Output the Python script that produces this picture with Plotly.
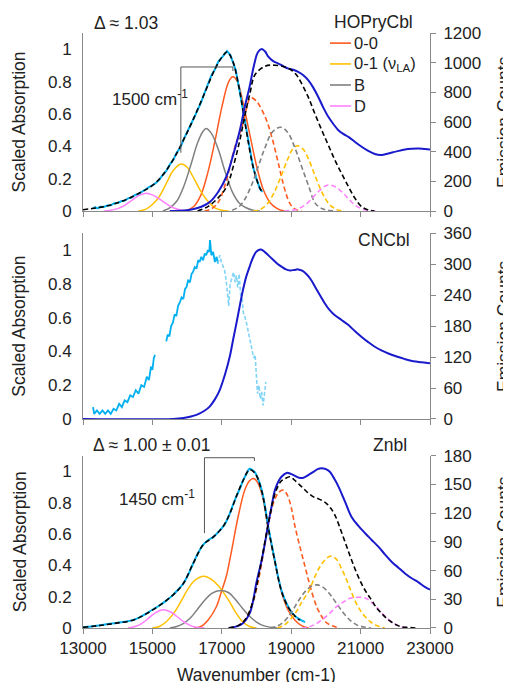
import plotly.graph_objects as go

# ---------------- Panel 1: HOPryCbl ----------------
p1_abs_wn = [13290, 13350, 13420, 13500, 13600, 13700, 13800, 13900, 14000, 14100, 14200, 14300, 14400, 14500,
             14600, 14700, 14800, 14900, 15000, 15100, 15200, 15300, 15400, 15500, 15600, 15700, 15800, 15900,
             16000, 16100, 16200, 16300, 16400, 16500, 16600, 16700, 16800, 16900, 17000, 17100, 17150, 17200,
             17250, 17300, 17400, 17500, 17600, 17700, 17800, 17900, 18000, 18100, 18170]
p1_abs = [0.015, 0.024, 0.016, 0.026, 0.025, 0.034, 0.035, 0.048, 0.050, 0.060, 0.064, 0.078, 0.083, 0.099,
          0.106, 0.122, 0.133, 0.148, 0.158, 0.174, 0.194, 0.224, 0.248, 0.287, 0.316, 0.360, 0.390, 0.443,
          0.485, 0.535, 0.576, 0.624, 0.670, 0.728, 0.782, 0.838, 0.874, 0.923, 0.948, 0.977, 0.988, 0.976,
          0.962, 0.933, 0.872, 0.758, 0.637, 0.503, 0.382, 0.273, 0.197, 0.138, 0.118]
p1_fit_wn = [13000, 13400, 13800, 14200, 14600, 15000, 15300, 15600, 15900, 16200, 16500, 16800, 17000, 17150,
             17300, 17500, 17700, 17900, 18100, 18170]
p1_fit = [0.008, 0.02, 0.037, 0.067, 0.108, 0.158, 0.222, 0.318, 0.441, 0.577, 0.726, 0.876, 0.950, 0.983,
          0.935, 0.760, 0.505, 0.275, 0.140, 0.118]
p1_00_wn = [15800, 16000, 16200, 16400, 16600, 16800, 17000, 17200, 17320, 17450, 17600, 17800, 18000, 18200, 18400, 18600, 18800]
p1_00 = [0.0, 0.005, 0.03, 0.10, 0.24, 0.43, 0.64, 0.80, 0.83, 0.80, 0.68, 0.48, 0.28, 0.13, 0.05, 0.015, 0.0]
p1_01_wn = [14600, 14800, 15000, 15200, 15400, 15600, 15830, 16000, 16200, 16400, 16600, 16800, 17000, 17200]
p1_01 = [0.0, 0.01, 0.04, 0.09, 0.17, 0.25, 0.29, 0.27, 0.20, 0.12, 0.06, 0.02, 0.005, 0.0]
p1_B_wn = [15300, 15500, 15700, 15900, 16100, 16300, 16450, 16550, 16700, 16900, 17100, 17300, 17500, 17700, 17900, 18100]
p1_B = [0.0, 0.02, 0.06, 0.15, 0.28, 0.42, 0.49, 0.51, 0.48, 0.38, 0.24, 0.12, 0.05, 0.02, 0.005, 0.0]
p1_D_wn = [13600, 13800, 14000, 14200, 14400, 14600, 14820, 15000, 15200, 15400, 15600, 15800, 16000]
p1_D = [0.0, 0.005, 0.015, 0.035, 0.065, 0.095, 0.11, 0.10, 0.075, 0.045, 0.02, 0.007, 0.0]

p1_em_wn = [15500, 16000, 16300, 16650, 16900, 17130, 17330, 17520, 17660, 17800, 17930, 18040, 18150, 18250,
            18340, 18480, 18630, 18780, 18920, 19060, 19200, 19350, 19490, 19640, 19780, 19920, 20070, 20220,
            20360, 20500, 20650, 20840, 21030, 21220, 21410, 21600, 21800, 22040, 22280, 22470, 22660, 22850, 23000]
p1_em = [0, 5, 20, 60, 130, 231, 380, 545, 700, 837, 985, 1070, 1092, 1075, 1040, 1010, 994, 975, 960, 952,
         938, 915, 882, 830, 769, 700, 635, 585, 545, 520, 500, 465, 433, 405, 384, 378, 388, 402, 415, 420,
         422, 418, 415]
p1_emfit_wn = [16300, 16600, 16900, 17140, 17330, 17520, 17660, 17810, 17960, 18250, 18530, 18820, 19010, 19160,
               19300, 19490, 19680, 19880, 20070, 20260, 20450, 20650, 20840, 21030, 21220, 21400]
p1_emfit = [0, 30, 90, 164, 300, 478, 640, 792, 920, 976, 983, 971, 949, 915, 859, 769, 657, 545, 444, 343,
            254, 164, 85, 29, 7, 0]
p1_e00_wn = [16500, 16700, 16900, 17100, 17380, 17610, 17700, 17800, 17850, 18000, 18250, 18440, 18630, 18820, 18960, 19100, 19300]
p1_e00 = [0, 15, 60, 180, 433, 590, 680, 758, 765, 740, 635, 500, 321, 141, 52, 15, 0]
p1_e01_wn = [17900, 18100, 18300, 18500, 18700, 18900, 19050, 19190, 19350, 19500, 19700, 19900, 20100, 20300, 20500]
p1_e01 = [0, 10, 45, 120, 230, 350, 420, 440, 415, 350, 230, 120, 45, 12, 0]
p1_eB_wn = [17300, 17500, 17650, 17850, 18050, 18250, 18450, 18690, 18900, 19100, 19300, 19500, 19700, 19900, 20100, 20300]
p1_eB = [5, 30, 74, 170, 300, 430, 530, 565, 530, 430, 300, 170, 50, 15, 3, 0]
p1_eD_wn = [18800, 19000, 19200, 19400, 19600, 19800, 20000, 20120, 20300, 20500, 20700, 20900, 21100, 21300, 21500]
p1_eD = [0, 5, 15, 40, 85, 135, 170, 175, 160, 120, 70, 30, 10, 2, 0]

# ---------------- Panel 2: CNCbl ----------------
p2_abs_a_wn = [13290, 13320, 13400, 13480, 13560, 13640, 13720, 13800, 13880, 13960, 14040, 14120, 14200, 14280,
               14360, 14440, 14520, 14600, 14680, 14760, 14840, 14900, 14960, 15000, 15040, 15075]
p2_abs_a = [0.07, 0.03, 0.05, 0.03, 0.05, 0.03, 0.05, 0.03, 0.06, 0.05, 0.09, 0.07, 0.11, 0.10, 0.14, 0.13,
            0.17, 0.15, 0.20, 0.19, 0.25, 0.23, 0.31, 0.29, 0.36, 0.38]
p2_abs_b_wn = [15400, 15440, 15490, 15540, 15590, 15640, 15690, 15740, 15790, 15840, 15890, 15940, 15980, 16030,
               16080, 16130, 16170, 16220, 16270, 16320, 16360, 16410, 16460, 16510, 16550, 16600, 16640, 16660,
               16700, 16750, 16800, 16850, 16890]
p2_abs_b = [0.46, 0.50, 0.49, 0.55, 0.57, 0.62, 0.61, 0.67, 0.69, 0.72, 0.71, 0.77, 0.78, 0.82, 0.81, 0.86,
            0.87, 0.90, 0.89, 0.94, 0.93, 0.96, 0.94, 0.98, 0.97, 1.0, 0.99, 1.06, 0.97, 0.99, 0.93, 0.96, 0.92]
p2_abs_c_wn = [16890, 16940, 16990, 17040, 17080, 17120, 17160, 17200, 17240, 17290, 17340, 17380, 17420, 17460,
               17500, 17540, 17580, 17620, 17660, 17720, 17780, 17840, 17880, 17920, 17960, 17990, 18030, 18070,
               18110, 18150, 18190, 18230, 18270]
p2_abs_c = [0.92, 0.97, 0.93, 0.90, 0.88, 0.83, 0.76, 0.67, 0.80, 0.83, 0.87, 0.81, 0.85, 0.78, 0.86, 0.74,
            0.72, 0.63, 0.61, 0.56, 0.50, 0.46, 0.40, 0.36, 0.38, 0.28, 0.15, 0.20, 0.12, 0.16, 0.08, 0.15, 0.22]
p2_em_wn = [13000, 15600, 15900, 16270, 16500, 16650, 16800, 16940, 17100, 17230, 17330, 17420, 17520, 17610,
            17700, 17800, 17900, 17990, 18080, 18150, 18250, 18440, 18600, 18730, 18850, 18970, 19090, 19200,
            19330, 19450, 19570, 19690, 19830, 19970, 20110, 20260, 20450, 20650, 20840, 21030, 21220, 21410,
            21600, 21800, 22040, 22280, 22520, 22760, 23000]
p2_em = [0, 0, 2, 8, 16, 24, 38, 56, 88, 121, 155, 185, 220, 250, 275, 295, 313, 324, 328, 328, 323, 311, 301,
         295, 290, 288, 289, 290, 287, 280, 270, 256, 240, 224, 211, 201, 192, 182, 170, 159, 149, 140, 133,
         127, 121, 116, 112, 110, 108]

# ---------------- Panel 3: Znbl ----------------
p3_abs_wn = [13000, 13240, 13480, 13720, 13960, 14200, 14440, 14630, 14820, 15010, 15210, 15400, 15590, 15740,
             15880, 16030, 16170, 16310, 16460, 16600, 16750, 16890, 17030, 17130, 17230, 17330, 17420, 17520,
             17610, 17700, 17800, 17870, 17950, 18050, 18150, 18250, 18340, 18440, 18530, 18620, 18720, 18820,
             18920, 19010, 19110, 19250, 19400]
p3_abs = [0.005, 0.01, 0.017, 0.025, 0.032, 0.04, 0.05, 0.068, 0.092, 0.118, 0.145, 0.175, 0.21, 0.245, 0.28,
          0.34, 0.41, 0.475, 0.53, 0.56, 0.58, 0.61, 0.645, 0.68, 0.73, 0.79, 0.84, 0.89, 0.94, 0.98, 1.017,
          1.01, 0.995, 0.95, 0.88, 0.77, 0.645, 0.53, 0.43, 0.33, 0.24, 0.18, 0.134, 0.10, 0.077, 0.055, 0.038]
p3_fit_wn = [13000, 13480, 13960, 14440, 14820, 15210, 15590, 15880, 16170, 16460, 16750, 17030, 17230, 17420,
             17610, 17800, 17950, 18150, 18340, 18530, 18720, 18920, 19110, 19250]
p3_fit = [0.004, 0.016, 0.031, 0.05, 0.09, 0.145, 0.21, 0.28, 0.41, 0.53, 0.58, 0.645, 0.73, 0.84, 0.94,
          1.01, 0.99, 0.875, 0.64, 0.425, 0.235, 0.13, 0.075, 0.05]
p3_00_wn = [16200, 16400, 16600, 16840, 17000, 17130, 17270, 17470, 17660, 17800, 17900, 18000, 18150, 18340,
            18530, 18720, 18920, 19110, 19300, 19500]
p3_00 = [0.0, 0.01, 0.05, 0.134, 0.24, 0.33, 0.48, 0.71, 0.88, 0.94, 0.955, 0.94, 0.86, 0.63, 0.42, 0.23,
         0.11, 0.05, 0.015, 0.0]
p3_01_wn = [15000, 15200, 15400, 15600, 15800, 16000, 16200, 16480, 16700, 16900, 17100, 17230, 17400, 17600, 17800, 18000]
p3_01 = [0.0, 0.01, 0.04, 0.09, 0.16, 0.24, 0.30, 0.33, 0.31, 0.27, 0.21, 0.165, 0.10, 0.04, 0.01, 0.0]
p3_B_wn = [15500, 15700, 15900, 16100, 16300, 16500, 16700, 16970, 17200, 17400, 17600, 17800, 18000, 18200, 18400, 18600]
p3_B = [0.0, 0.01, 0.03, 0.065, 0.12, 0.175, 0.22, 0.24, 0.225, 0.18, 0.125, 0.075, 0.038, 0.015, 0.005, 0.0]
p3_D_wn = [14300, 14500, 14700, 14900, 15100, 15300, 15500, 15700, 15900, 16100, 16300, 16500]
p3_D = [0.0, 0.01, 0.03, 0.065, 0.10, 0.117, 0.105, 0.075, 0.04, 0.015, 0.004, 0.0]

p3_em_wn = [17200, 17450, 17610, 17800, 17900, 17990, 18080, 18150, 18250, 18340, 18440, 18530, 18630, 18720,
            18870, 18990, 19110, 19230, 19350, 19500, 19640, 19760, 19880, 20000, 20120, 20240, 20360, 20550,
            20740, 20930, 21130, 21320, 21510, 21700, 21900, 22090, 22280, 22470, 22660, 22850, 23000]
p3_em = [0, 2, 5, 15, 28, 46, 60, 71, 90, 109, 128, 144, 153, 158, 162, 161, 159, 157, 157, 160, 163, 166,
         167, 166, 163, 156, 148, 132, 116, 107, 99, 92, 85, 77, 69, 63, 57, 52, 48, 43, 40]
p3_emfit_wn = [17200, 17500, 17700, 17900, 18100, 18340, 18530, 18700, 18820, 18960, 19080, 19200, 19350, 19490,
               19640, 19780, 19900, 20020, 20140, 20260, 20380, 20500, 20620, 20740, 20880, 21030, 21170, 21320,
               21460, 21610, 21750, 21900, 22050, 22200, 22400, 22600]
p3_emfit = [0, 3, 10, 28, 62, 109, 140, 153, 156, 158, 155, 151, 146, 141, 137, 135, 133, 130, 125, 118, 107,
            95, 83, 71, 58, 46, 37, 29, 21, 15, 10, 6, 3, 1, 0.5, 0]
p3_e00_wn = [17200, 17500, 17700, 17900, 18100, 18300, 18500, 18650, 18780, 18900, 19000, 19110, 19250, 19400,
             19520, 19640, 19760, 19880, 20000, 20200, 20400]
p3_e00 = [0, 3, 10, 27, 58, 100, 132, 142, 144, 138, 126, 106, 85, 64, 47, 32, 20, 12, 6, 2, 0]
p3_e01_wn = [18600, 18800, 19000, 19200, 19300, 19500, 19700, 19900, 20120, 20300, 20450, 20600, 20740, 20900,
             21100, 21300, 21500, 21700]
p3_e01 = [0, 3, 10, 20, 27, 38, 55, 68, 75, 72, 62, 50, 37, 24, 13, 6, 2, 0]
p3_eB_wn = [18400, 18600, 18800, 19000, 19200, 19400, 19600, 19750, 19900, 20100, 20300, 20500, 20700, 20900, 21100, 21300]
p3_eB = [0, 2, 7, 16, 28, 38, 44, 45, 43, 36, 26, 16, 8, 3, 1, 0]
p3_eD_wn = [19300, 19500, 19700, 19900, 20100, 20300, 20500, 20700, 21030, 21200, 21400, 21600, 21800, 22000, 22200, 22400]
p3_eD = [0, 1, 4, 9, 15, 22, 27, 31, 32, 30, 24, 16, 9, 4, 1, 0]

# ---------------- axes / labels ----------------
x_ticks = [13000, 15000, 17000, 19000, 21000, 23000]
x_ticktext = ["13000", "15000", "17000", "19000", "21000", "23000"]
abs_ticks = [0, 0.2, 0.4, 0.6, 0.8, 1]
abs_ticktext = ["0", "0.2", "0.4", "0.6", "0.8", "1"]
p1_em_ticks = [0, 200, 400, 600, 800, 1000, 1200]
p2_em_ticks = [0, 60, 120, 180, 240, 300, 360]
p3_em_ticks = [0, 30, 60, 90, 120, 150, 180]
legend_names = ["0-0", "0-1 (\u03bd<sub>LA</sub>)", "B", "D"]
bracket1_wn = [15820, 17320]
bracket1_y = [0.36, 0.89, 0.865]
bracket3_wn = [16500, 17940]
bracket3_y = [0.606, 1.087, 1.066]

C_ABS = "#00B0F0"
C_ABS_L = "#80D4F6"
C_EM = "#1A1ACD"
C_00 = "#FF5A1F"
C_01 = "#FFC000"
C_B = "#808080"
C_D = "#FF80FF"
FONT = "Liberation Sans, Arial, sans-serif"
TXT = "#222222"
AXC = "#898989"
DASH = "5px,3px"

fig = go.Figure()


def add(xv, yv, color, xa, ya, width=1.6, dash=None, shape="spline"):
    fig.add_trace(go.Scatter(x=xv, y=yv, mode="lines", xaxis=xa, yaxis=ya, showlegend=False,
                             hoverinfo="skip",
                             line=dict(color=color, width=width, dash=dash, shape=shape)))


comp_colors = [C_00, C_01, C_B, C_D]

# panel 1 (top) : x3 / y5 (abs), y6 (emission)
for (xv, yv), c in zip([(p1_00_wn, p1_00), (p1_01_wn, p1_01), (p1_B_wn, p1_B), (p1_D_wn, p1_D)], comp_colors):
    add(xv, yv, c, "x3", "y5", 1.5)
add(p1_abs_wn, p1_abs, C_ABS, "x3", "y5", 2.0, shape="linear")
add(p1_fit_wn, p1_fit, "#000000", "x3", "y5", 1.6, DASH)
for (xv, yv), c in zip([(p1_e00_wn, p1_e00), (p1_e01_wn, p1_e01), (p1_eB_wn, p1_eB), (p1_eD_wn, p1_eD)], comp_colors):
    add(xv, yv, c, "x3", "y6", 1.6, DASH)
add(p1_em_wn, p1_em, C_EM, "x3", "y6", 2.0)
add(p1_emfit_wn, p1_emfit, "#000000", "x3", "y6", 1.6, DASH)

# panel 2 (middle) : x2 / y3, y4
add(p2_abs_a_wn, p2_abs_a, C_ABS, "x2", "y3", 1.8, shape="linear")
add(p2_abs_b_wn, p2_abs_b, C_ABS, "x2", "y3", 1.8, shape="linear")
add(p2_abs_c_wn, p2_abs_c, C_ABS_L, "x2", "y3", 1.6, "4px,2px", shape="linear")
add(p2_em_wn, p2_em, C_EM, "x2", "y4", 2.0)

# panel 3 (bottom) : x / y, y2
for (xv, yv), c in zip([(p3_00_wn, p3_00), (p3_01_wn, p3_01), (p3_B_wn, p3_B), (p3_D_wn, p3_D)], comp_colors):
    add(xv, yv, c, "x", "y", 1.5)
add(p3_abs_wn, p3_abs, C_ABS, "x", "y", 2.0)
add(p3_fit_wn, p3_fit, "#000000", "x", "y", 1.6, DASH)
for (xv, yv), c in zip([(p3_e00_wn, p3_e00), (p3_e01_wn, p3_e01), (p3_eB_wn, p3_eB), (p3_eD_wn, p3_eD)], comp_colors):
    add(xv, yv, c, "x", "y2", 1.6, DASH)
add(p3_em_wn, p3_em, C_EM, "x", "y2", 2.0)
add(p3_emfit_wn, p3_emfit, "#000000", "x", "y2", 1.6, DASH)

tickfont = dict(family=FONT, size=17, color=TXT)
xcommon = dict(range=[13000, 23000], tickvals=x_ticks, ticktext=x_ticktext, ticks="outside", ticklen=5,
               tickcolor=AXC, showline=True, linecolor=AXC, linewidth=1, showgrid=False, zeroline=False,
               tickfont=tickfont)
yleft = dict(range=[0, 1.1], tickvals=abs_ticks, ticktext=abs_ticktext, ticks="", showline=True,
             linecolor=AXC, linewidth=1, showgrid=False, zeroline=False, tickfont=tickfont,
             ticklabelstandoff=7)
yright = dict(side="right", ticks="outside", ticklen=5, tickcolor=AXC, showline=True, linecolor=AXC,
              linewidth=1, showgrid=False, zeroline=False, tickfont=tickfont, ticklabelstandoff=4)

dom3 = [0.0, 0.2896]
dom2 = [0.3513, 0.6634]
dom1 = [0.7008, 1.0]

# the page body adds an 8px offset, so the figure is sized 8px smaller than the window
fig.update_layout(
    width=503, height=674,
    margin=dict(l=75, r=81, t=25, b=54),
    paper_bgcolor="white", plot_bgcolor="white",
    showlegend=False,
    xaxis=dict(**xcommon, anchor="y", domain=[0, 1]),
    xaxis2=dict(**xcommon, anchor="y3", domain=[0, 1], matches="x", showticklabels=False),
    xaxis3=dict(**xcommon, anchor="y5", domain=[0, 1], matches="x", showticklabels=False),
    yaxis=dict(**yleft, domain=dom3, anchor="x"),
    yaxis2=dict(**yright, overlaying="y", anchor="x", range=[0, 180], tickvals=p3_em_ticks),
    yaxis3=dict(**yleft, domain=dom2, anchor="x2"),
    yaxis4=dict(**yright, overlaying="y3", anchor="x2", range=[0, 360], tickvals=p2_em_ticks),
    yaxis5=dict(**yleft, domain=dom1, anchor="x3"),
    yaxis6=dict(**yright, overlaying="y5", anchor="x3", range=[0, 1200], tickvals=p1_em_ticks),
)

shapes = []
# brackets
for xw, yv, xa, ya in [(bracket1_wn, bracket1_y, "x3", "y5"), (bracket3_wn, bracket3_y, "x", "y")]:
    ln = dict(color="#555555", width=1)
    shapes.append(dict(type="line", xref=xa, yref=ya, x0=xw[0], x1=xw[0], y0=yv[0], y1=yv[1], line=ln))
    shapes.append(dict(type="line", xref=xa, yref=ya, x0=xw[0], x1=xw[1], y0=yv[1], y1=yv[1], line=ln))
    shapes.append(dict(type="line", xref=xa, yref=ya, x0=xw[1], x1=xw[1], y0=yv[1], y1=yv[2], line=ln))

# manual legend (panel 1)
leg_y = [0.983, 0.948, 0.9126, 0.8773]
annotations = []
for name, c, yy in zip(legend_names, comp_colors, leg_y):
    shapes.append(dict(type="line", xref="paper", yref="paper", x0=0.7118, x1=0.7723, y0=yy, y1=yy,
                       line=dict(color=c, width=1.6)))
    annotations.append(dict(xref="paper", yref="paper", x=0.7752, y=yy, xanchor="left", yanchor="middle",
                            text=name, showarrow=False, font=dict(family=FONT, size=16.5, color=TXT)))

fig.update_layout(shapes=shapes)

bigfont = dict(family=FONT, size=17.5, color=TXT)


def note(text, x, y, xanchor="left", xref="paper", yref="paper", angle=0, font=bigfont):
    annotations.append(dict(xref=xref, yref=yref, x=x, y=y, xanchor=xanchor, yanchor="middle", text=text,
                            showarrow=False, textangle=angle, font=font))


note("HOPryCbl", 0.7176, 1.0185)
note("\u0394 \u2248 1.03", 0.026, 1.0168)
note("CNCbl", 0.786, 0.652)
note("Znbl", 0.829, 0.3076)
note("\u0394 \u2248 1.00 \u00b1 0.01", 0.024, 0.3076)
note("1500 cm<sup>-1</sup>", 13780, 0.70, xref="x3", yref="y5", font=dict(family=FONT, size=17, color=TXT))
note("1450 cm<sup>-1</sup>", 13980, 0.83, xref="x", yref="y", font=dict(family=FONT, size=17, color=TXT))

# axis titles
for dom in (dom1, dom2, dom3):
    yc = (dom[0] + dom[1]) / 2
    note("Scaled Absorption", -0.183, yc, xanchor="center", angle=-90)
    note("Emission Counts", 1.213, yc, xanchor="center", angle=-90)
note("Wavenumber (cm-1)", 0.5, -0.0787, xanchor="center")

fig.update_layout(annotations=annotations)
fig.write_html("out.html")
